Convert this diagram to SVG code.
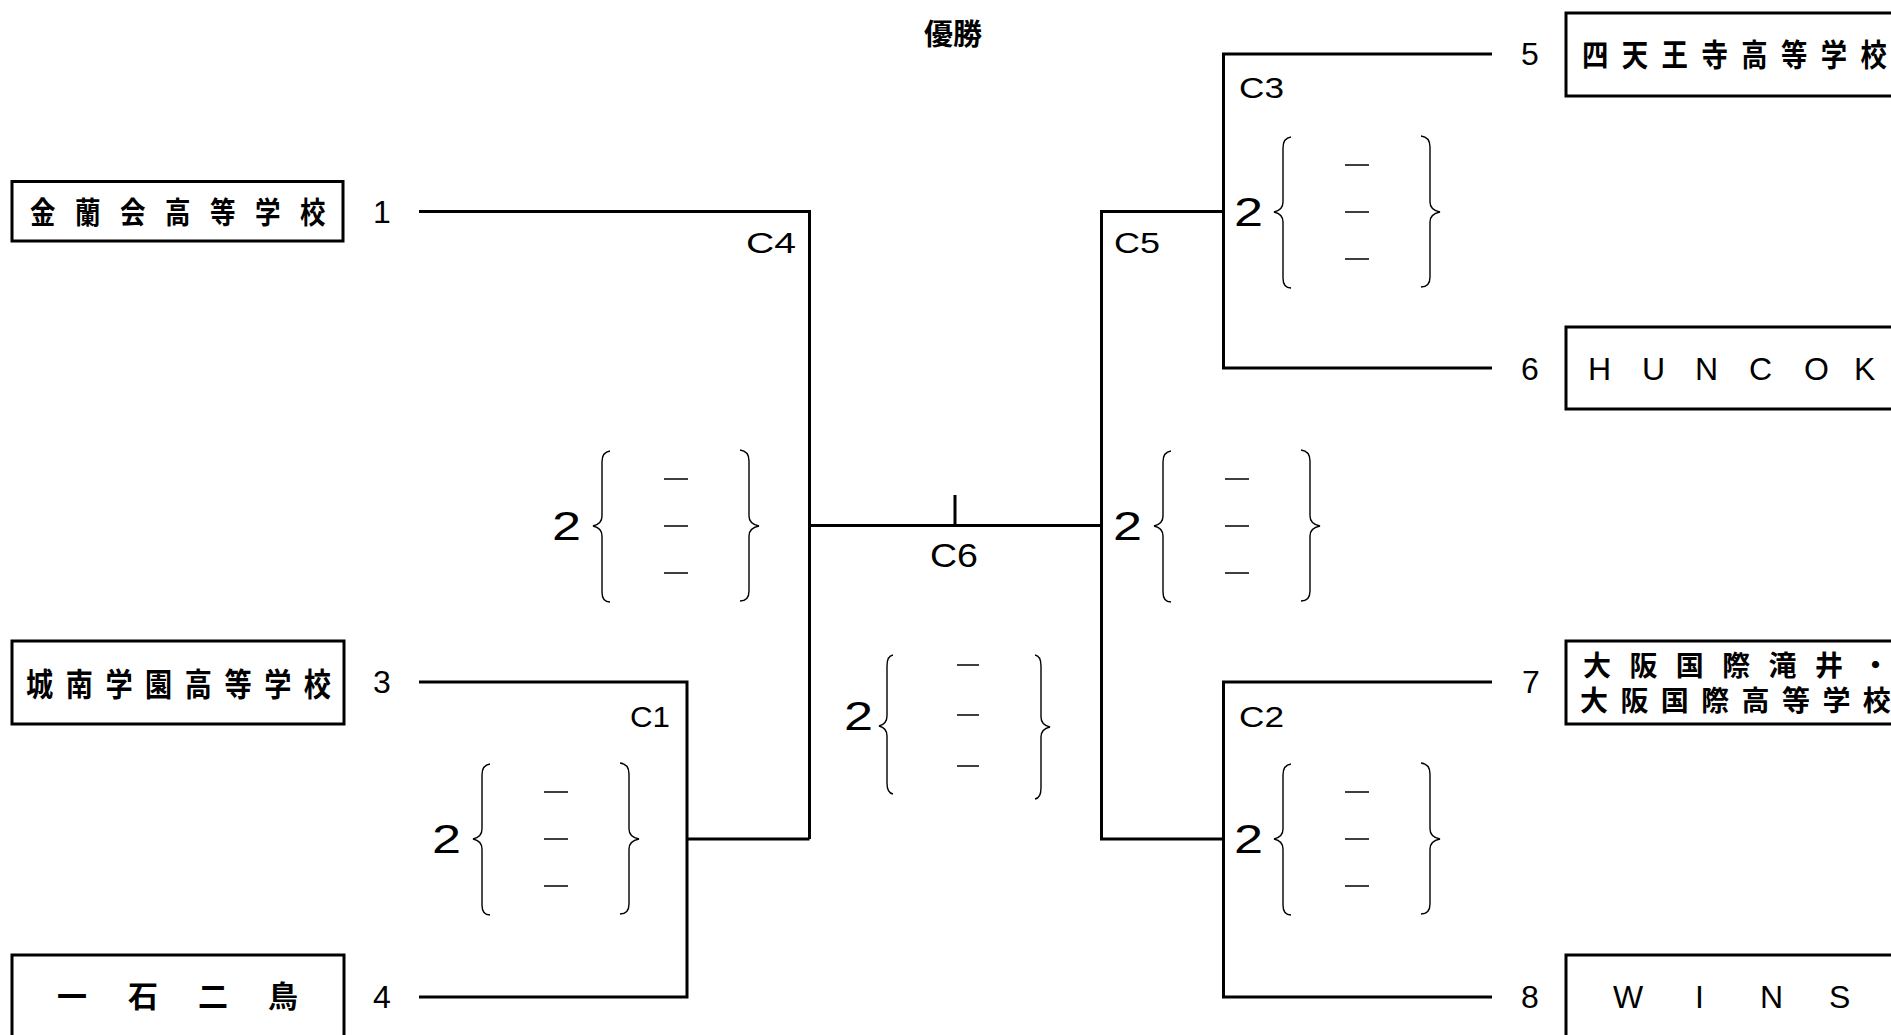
<svg xmlns="http://www.w3.org/2000/svg" xmlns:xlink="http://www.w3.org/1999/xlink" width="1891" height="1035" viewBox="0 0 1891 1035">
<style>
.box{fill:#fff;stroke:#000;stroke-width:3}
.ln{fill:none;stroke:#000;stroke-width:3;stroke-linejoin:miter}
.br{fill:none;stroke:#000;stroke-width:1.4}
.ds{fill:none;stroke:#000;stroke-width:1.6}
.jp{font-family:"Noto Sans CJK JP","Noto Sans CJK SC",sans-serif;font-size:29px;font-weight:bold;fill:#000}
.en{font-family:"Liberation Sans",Arial,sans-serif;fill:#000}
.num{font-size:32px;text-anchor:middle}
.cl{font-size:30px}
.sc{font-size:40px}
.ttl{font-family:"Noto Sans CJK JP","Noto Sans CJK SC",sans-serif;font-size:29px;font-weight:bold;fill:#000}
</style>
<defs>
<g id="score">
<path class="br" d="M17,-75 Q9,-74 9,-64 V-10 Q9,-2 0,0 Q9,2 9,10 V66 Q9,76 17,76"/>
<path class="br" d="M147,-76 Q156,-75 156,-65 V-10 Q156,-2 166,0 Q156,2 156,10 V65 Q156,75 147,75"/>
<path class="ds" d="M71,-47 H95 M71,0 H95 M71,47 H95"/>
</g>
</defs>
<rect x="0" y="0" width="1891" height="1035" fill="#fff"/>

<text class="ttl" x="924" y="45">優勝</text>

<g id="connectors">
<path class="ln" d="M419,211.5 H809.5 V839"/>
<path class="ln" d="M419,682 H687 V997 H419"/>
<path class="ln" d="M687,839 H809.5"/>
<path class="ln" d="M809.5,525.5 H1101.5"/>
<path class="ln" d="M955,495 V525.5"/>
<path class="ln" d="M1223.5,211.5 H1101.5 V839 H1223.5"/>
<path class="ln" d="M1492,54 H1223.5 V368 H1492"/>
<path class="ln" d="M1492,682 H1223.5 V997 H1492"/>
</g>

<g id="team1">
<rect class="box" x="12" y="181.5" width="331" height="59.5"/>
<text class="jp" style="font-size:30px" transform="translate(30,223) scale(0.85,1)" x="0 52.9 105.9 158.8 211.8 264.7 317.6" y="0">金蘭会高等学校</text>
<text class="en num" x="382" y="223">1</text>
</g>
<g id="team3">
<rect class="box" x="12" y="641" width="332" height="83"/>
<text class="jp" style="font-size:32px" transform="translate(26,696) scale(0.85,1)" x="0 46.7 93.4 140.1 186.8 233.5 280.2 326.9" y="0">城南学園高等学校</text>
<text class="en num" x="382" y="693">3</text>
</g>
<g id="team4">
<rect class="box" x="12" y="955" width="332" height="90"/>
<text class="jp" style="font-size:30px" x="57 128 198 268" y="1007">一石二鳥</text>
<text class="en num" x="382" y="1008">4</text>
</g>
<g id="team5">
<rect class="box" x="1566" y="13" width="340" height="83"/>
<text class="jp" style="font-size:31px" transform="translate(1582,66) scale(0.85,1)" x="0 46.8 93.6 140.5 187.3 234.1 280.9 327.8" y="0">四天王寺高等学校</text>
<text class="en num" x="1530" y="65">5</text>
</g>
<g id="team6">
<rect class="box" x="1566" y="327" width="340" height="82"/>
<text class="en" style="font-size:32px" x="1588 1642 1695 1749 1804 1854" y="380">HUNCOK</text>
<text class="en num" x="1530" y="380">6</text>
</g>
<g id="team7">
<rect class="box" x="1566" y="641" width="340" height="83"/>
<text class="jp" style="font-size:28px" x="1583 1629.4 1675.8 1722.2 1768.6 1815 1861.4" y="676">大阪国際滝井・</text>
<text class="jp" style="font-size:28px" x="1580 1620.4 1660.8 1701.2 1741.6 1782 1822.4 1862.8" y="711">大阪国際高等学校</text>
<text class="en num" x="1531" y="693">7</text>
</g>
<g id="team8">
<rect class="box" x="1566" y="955" width="340" height="90"/>
<text class="en" style="font-size:32px" x="1613 1695 1760 1829" y="1008">WINS</text>
<text class="en num" x="1530" y="1008">8</text>
</g>

<g id="C1">
<text class="en cl" x="630" y="727" textLength="40" lengthAdjust="spacingAndGlyphs">C1</text>
<use xlink:href="#score" transform="translate(473,839)"/>
<text class="en sc" x="432" y="853" textLength="29" lengthAdjust="spacingAndGlyphs">2</text>
</g>
<g id="C2">
<text class="en cl" x="1239" y="727" textLength="45" lengthAdjust="spacingAndGlyphs">C2</text>
<use xlink:href="#score" transform="translate(1274,839)"/>
<text class="en sc" x="1234" y="853" textLength="29" lengthAdjust="spacingAndGlyphs">2</text>
</g>
<g id="C3">
<text class="en cl" x="1239" y="98" textLength="45" lengthAdjust="spacingAndGlyphs">C3</text>
<use xlink:href="#score" transform="translate(1274,212)"/>
<text class="en sc" x="1234" y="226" textLength="29" lengthAdjust="spacingAndGlyphs">2</text>
</g>
<g id="C4">
<text class="en cl" x="746" y="253" textLength="50" lengthAdjust="spacingAndGlyphs">C4</text>
<use xlink:href="#score" transform="translate(593,526)"/>
<text class="en sc" x="552" y="540" textLength="29" lengthAdjust="spacingAndGlyphs">2</text>
</g>
<g id="C5">
<text class="en cl" x="1114" y="253" textLength="46" lengthAdjust="spacingAndGlyphs">C5</text>
<use xlink:href="#score" transform="translate(1154,526)"/>
<text class="en sc" x="1113" y="540" textLength="29" lengthAdjust="spacingAndGlyphs">2</text>
</g>
<g id="C6">
<text class="en cl" style="font-size:33px" x="930" y="567" textLength="48" lengthAdjust="spacingAndGlyphs">C6</text>
<path class="br" d="M893,655 Q887,656 887,666 V716 Q887,724 879,726 Q887,728 887,736 V783 Q887,793 893,794"/>
<path class="br" d="M1035,655 Q1041,656 1041,666 V717 Q1041,725 1050,727 Q1041,729 1041,737 V788 Q1041,798 1035,799"/>
<path class="ds" d="M957,665 H979 M957,715 H979 M957,766 H979"/>
<text class="en sc" x="844" y="730" textLength="29" lengthAdjust="spacingAndGlyphs">2</text>
</g>
</svg>
